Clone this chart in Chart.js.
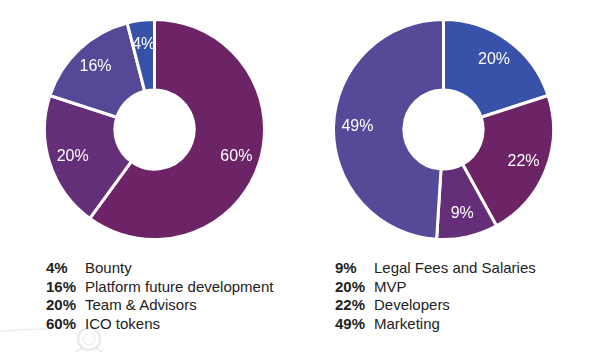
<!DOCTYPE html>
<html>
<head>
<meta charset="utf-8">
<script src="https://cdn.jsdelivr.net/npm/chart.js@4.4.1/dist/chart.umd.min.js"></script>
<style>
  html, body { margin: 0; padding: 0; background: #ffffff; }
  body { width: 598px; height: 352px; position: relative; overflow: hidden;
         font-family: "Liberation Sans", Arial, sans-serif; }
  .box { position: absolute; }
  .legend { position: absolute; font-size: 15px; color: #222; line-height: 18.7px; }
  .legend .row { white-space: nowrap; }
  .legend .pct { display: inline-block; width: 39px; font-weight: bold; }
  svg.deco { position: absolute; left: 0; top: 0; }
</style>
</head>
<body>
<svg class="deco" width="598" height="352">
  <line x1="0" y1="331" x2="78" y2="327" stroke="#efefef" stroke-width="1.5"/>
  <circle cx="89" cy="339" r="11" fill="none" stroke="#ebebeb" stroke-width="2.5"/>
  <circle cx="89" cy="339" r="6" fill="none" stroke="#f1f1f1" stroke-width="1.5"/>
  <line x1="82" y1="348" x2="76" y2="352" stroke="#ececec" stroke-width="2"/>
  <line x1="96" y1="348" x2="102" y2="352" stroke="#ececec" stroke-width="2"/>
</svg>
<div class="box" id="leftBox" style="left:43px;top:18px;width:223px;height:223px;"><canvas id="leftChart"></canvas></div>
<div class="box" id="rightBox" style="left:332px;top:18px;width:223px;height:223px;"><canvas id="rightChart"></canvas></div>
<div class="legend" id="leftLegend" style="left:46px;top:259px;"></div>
<div class="legend" id="rightLegend" style="left:335px;top:259px;"></div>
<script>
// Chart data (clockwise from 12 o'clock)
const leftLabels = ["ICO tokens", "Team & Advisors", "Platform future development", "Bounty"];
const leftValues = [60, 20, 16, 4];
const leftColors = ["#6d2467", "#652e78", "#574797", "#3752a8"];

const rightLabels = ["MVP", "Developers", "Legal Fees and Salaries", "Marketing"];
const rightValues = [20, 22, 9, 49];
const rightColors = ["#3752a8", "#6d2467", "#652e78", "#554a98"];

const sliceLabelPlugin = {
  id: 'sliceLabels',
  afterDatasetsDraw(chart) {
    const ctx = chart.ctx;
    const meta = chart.getDatasetMeta(0);
    const values = chart.data.datasets[0].data;
    ctx.save();
    ctx.fillStyle = '#ffffff';
    ctx.font = '16px "Liberation Sans", Arial, sans-serif';
    ctx.textAlign = 'center';
    ctx.textBaseline = 'middle';
    meta.data.forEach((arc, i) => {
      const p = arc.getProps(['x', 'y', 'startAngle', 'endAngle', 'innerRadius', 'outerRadius'], true);
      const a = (p.startAngle + p.endAngle) / 2;
      const r = p.innerRadius + (p.outerRadius - p.innerRadius) * 0.66;
      ctx.fillText(values[i] + '%', p.x + Math.cos(a) * r, p.y + Math.sin(a) * r);
    });
    ctx.restore();
  }
};

function makeDonut(id, labels, values, colors) {
  return new Chart(document.getElementById(id), {
    type: 'doughnut',
    data: {
      labels: labels,
      datasets: [{
        data: values,
        backgroundColor: colors,
        borderColor: '#ffffff',
        borderWidth: 3,
        hoverOffset: 0
      }]
    },
    options: {
      responsive: true,
      maintainAspectRatio: false,
      animation: false,
      cutout: '36%',
      rotation: 0,
      layout: { padding: 0 },
      plugins: { legend: { display: false }, tooltip: { enabled: false } }
    },
    plugins: [sliceLabelPlugin]
  });
}

function makeLegend(id, labels, values) {
  const order = values.map((v, i) => i).sort((a, b) => values[a] - values[b]);
  const el = document.getElementById(id);
  order.forEach(i => {
    const row = document.createElement('div');
    row.className = 'row';
    const pct = document.createElement('span');
    pct.className = 'pct';
    pct.textContent = values[i] + '%';
    const txt = document.createElement('span');
    txt.textContent = labels[i];
    row.appendChild(pct);
    row.appendChild(txt);
    el.appendChild(row);
  });
}

makeDonut('leftChart', leftLabels, leftValues, leftColors);
makeDonut('rightChart', rightLabels, rightValues, rightColors);
makeLegend('leftLegend', leftLabels, leftValues);
makeLegend('rightLegend', rightLabels, rightValues);
</script>
</body>
</html>
